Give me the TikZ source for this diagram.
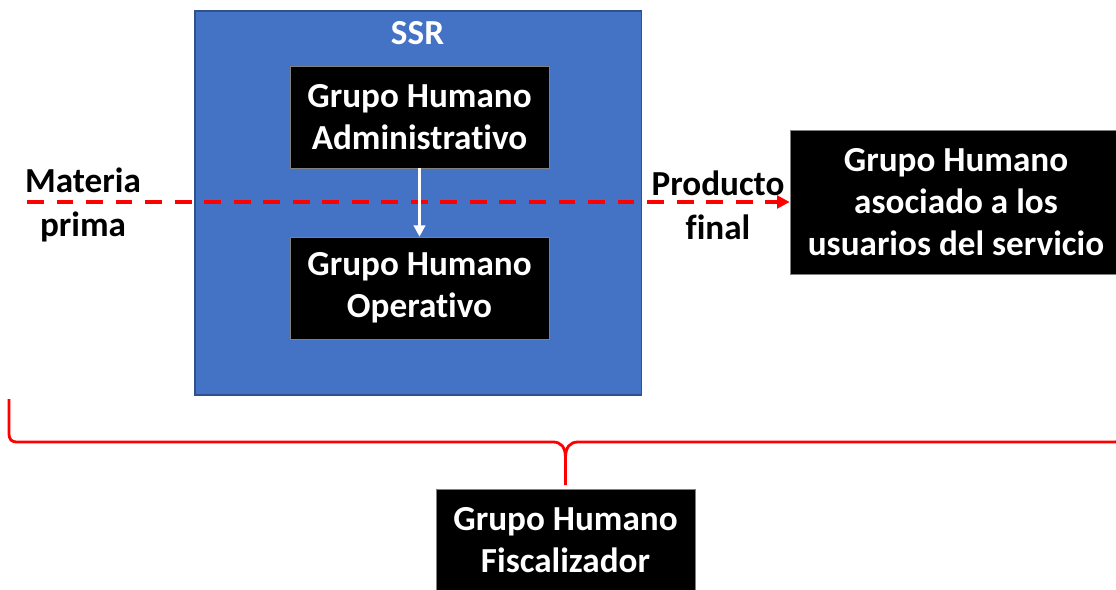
\documentclass[tikz,border=0pt]{standalone}
\usepackage{fontspec}
\setmainfont[Ligatures=NoCommon]{Carlito}
\usetikzlibrary{arrows.meta}
\definecolor{ssrblue}{HTML}{4472C4}
\definecolor{ssrline}{HTML}{2F528F}
\begin{document}
\begin{tikzpicture}[x=0.025cm,y=-0.025cm,
    grupo/.style={fill=black,draw=gray,text=white,font=\bfseries\fontsize{25}{30}\selectfont,
      align=center,minimum width=6.475cm,minimum height=2.55cm,inner sep=0pt},
    etiqueta/.style={font=\bfseries\fontsize{25}{31}\selectfont,align=center},
    flujo/.style={red,line width=2.8pt,dash pattern=on 12pt off 9pt,-{Triangle[length=9pt,width=9pt]}},
    llave/.style={red,line width=2pt}]
    \useasboundingbox (0,0) rectangle (1116,590);
    \node[fill=ssrblue,draw=ssrline,line width=0.8pt,minimum width=11.15cm,minimum height=9.6cm] (ssr) at (418,203) {};
    \node[text=white,font=\bfseries\fontsize{25}{30}\selectfont] (ssrtit) at (417.5,33) {SSR};
    \node[grupo] (admin) at (419.5,117) {Grupo Humano\\Administrativo};
    \node[grupo] (oper) at (419.5,288) {Grupo Humano\\Operativo};
    \node[grupo,minimum width=8.3cm,minimum height=3.6cm] (usuarios) at (956,202) {Grupo Humano\\asociado a los\\usuarios del servicio};
    \node[grupo] (fisc) at (565.5,540) {Grupo Humano\\Fiscalizador};
    \node[etiqueta] (mp) at (83,205) {Materia\\prima};
    \node[etiqueta] (pf) at (718,205) {Producto\\final};
    \coordinate (ini) at (27,202);
    \coordinate (punta) at (565.5,485);
    \draw[flujo] (ini) -- (usuarios.west);
    \draw[white,line width=2pt,-{Triangle[length=8pt,width=8pt]}] (admin) -- (oper);
    \draw[llave] (9,399) -- (9,432) .. controls (9,440) and (11,442) .. (18,442) -- (553,442)
      .. controls (561,442) and (565.5,447) .. (565.5,458) -- (punta)
      (punta) -- (565.5,458) .. controls (565.5,447) and (570,442) .. (578,442) -- (1113,442)
      .. controls (1120,442) and (1122,440) .. (1122,432) -- (1122,399);
\end{tikzpicture}
\end{document}
